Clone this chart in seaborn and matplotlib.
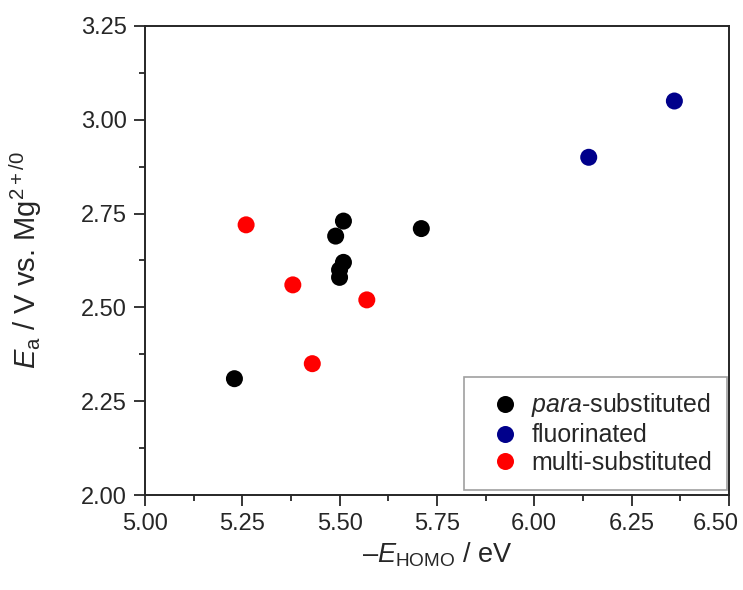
import matplotlib
matplotlib.use("Agg")
import matplotlib.pyplot as plt
from matplotlib.ticker import MultipleLocator, FormatStrFormatter
from matplotlib.transforms import ScaledTranslation
import pandas as pd
import seaborn as sns

# HOMO energies (eV) and anodic stability (V vs. Mg2+/0) by compound class
para_homo = [5.23, 5.49, 5.51, 5.51, 5.50, 5.50, 5.71]
para_ea = [2.31, 2.69, 2.73, 2.62, 2.60, 2.58, 2.71]
fluoro_homo = [6.14, 6.36]
fluoro_ea = [2.90, 3.05]
multi_homo = [5.26, 5.38, 5.43, 5.57]
multi_ea = [2.72, 2.56, 2.35, 2.52]

groups = ["$\\mathit{para}$-substituted", "fluorinated", "multi-substituted"]
colors = ["#000000", "#00008B", "#FF0000"]

df = pd.DataFrame({
    "homo": para_homo + fluoro_homo + multi_homo,
    "ea": para_ea + fluoro_ea + multi_ea,
    "group": [groups[0]] * len(para_homo) + [groups[1]] * len(fluoro_homo)
    + [groups[2]] * len(multi_homo),
})

sns.set_style("ticks")
plt.rcParams["font.family"] = ["Liberation Sans", "DejaVu Sans"]
plt.rcParams["mathtext.fontset"] = "custom"
plt.rcParams["mathtext.rm"] = "Liberation Sans"
plt.rcParams["mathtext.it"] = "Liberation Sans:italic"

ink = "#262626"
x_max = 6.5

fig = plt.figure(figsize=(7.43, 5.90), dpi=100)
ax = fig.add_axes([0.195, 0.161, 0.786, 0.795])

sns.scatterplot(data=df, x="homo", y="ea", hue="group", hue_order=groups,
                palette=colors, s=150, edgecolor="none", ax=ax, zorder=3)

ax.set_xlim(5.0, x_max)
ax.set_ylim(2.0, 3.25)
ax.xaxis.set_major_locator(MultipleLocator(0.25))
ax.xaxis.set_minor_locator(MultipleLocator(0.125))
ax.yaxis.set_major_locator(MultipleLocator(0.25))
ax.yaxis.set_minor_locator(MultipleLocator(0.125))
ax.xaxis.set_major_formatter(FormatStrFormatter("%.2f"))
ax.yaxis.set_major_formatter(FormatStrFormatter("%.2f"))
ax.tick_params(which="major", length=8, width=1.3, labelsize=17, color=ink,
               labelcolor=ink, pad=5)
ax.tick_params(which="minor", length=4.5, width=1.3, color=ink)
for sp in ax.spines.values():
    sp.set_linewidth(1.4)
    sp.set_color(ink)

ax.set_xlabel("–$\\mathit{E}_{\\mathrm{HOMO}}$ / eV", fontsize=19.5, color=ink, labelpad=4)
ax.set_ylabel("$\\mathit{E}_{\\mathrm{a}}$ / V vs. Mg$^{2+/0}$", fontsize=21, color=ink)
ax.yaxis.set_label_coords(-0.172, 0.5)

leg = ax.legend(loc="lower right", fontsize=17.9, frameon=True, fancybox=False,
                edgecolor="#888888", handletextpad=-0.04, borderpad=0.6,
                labelspacing=0.15, borderaxespad=0, handlelength=2.17,
                bbox_to_anchor=(0.997, 0.011), markerscale=1.0)
leg.get_frame().set_linewidth(1.2)
for t in leg.get_texts():
    t.set_color(ink)

# nudge the rightmost x tick label so it stays inside the figure edge
fig.canvas.draw()
for tick in ax.xaxis.get_major_ticks():
    if abs(tick.get_loc() - x_max) < 1e-9:
        lab = tick.label1
        lab.set_transform(lab.get_transform()
                          + ScaledTranslation(-0.13, 0, fig.dpi_scale_trans))

fig.savefig("out.png", dpi=100)
